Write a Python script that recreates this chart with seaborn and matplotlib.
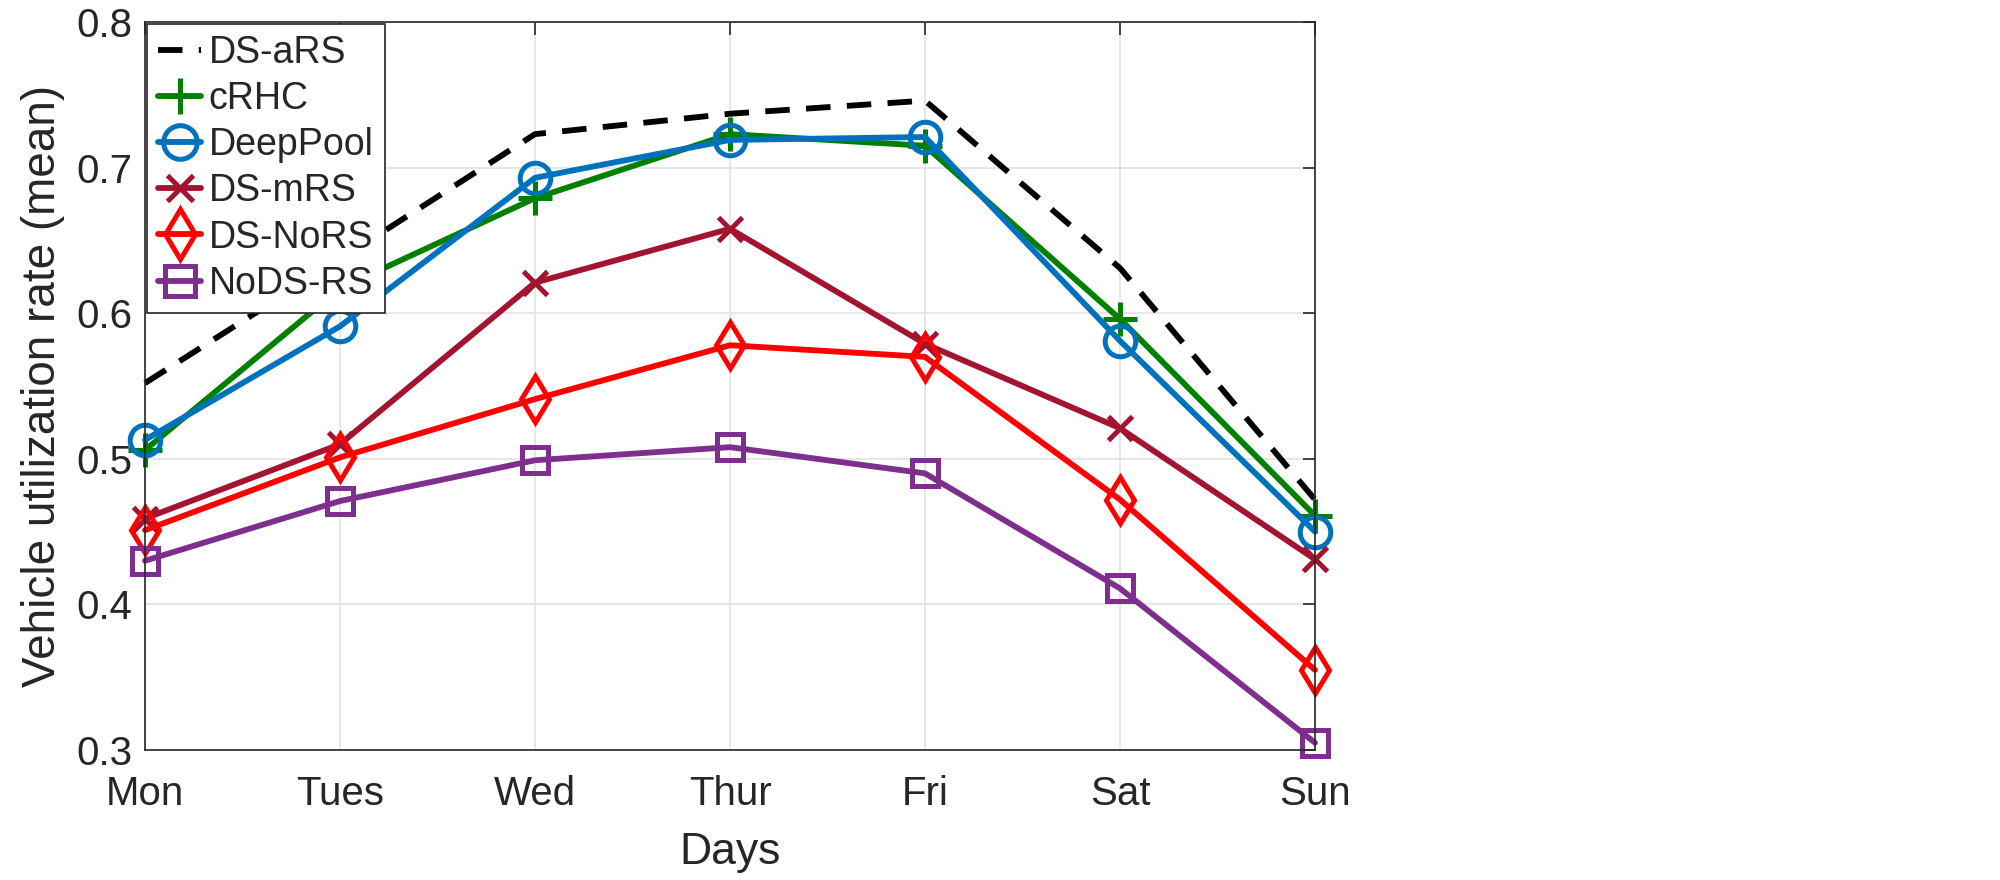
import matplotlib
matplotlib.use("Agg")
import matplotlib.pyplot as plt
import matplotlib.ticker as mticker
import seaborn as sns
import numpy as np

# data
days = ['Mon', 'Tues', 'Wed', 'Thur', 'Fri', 'Sat', 'Sun']
ds_ars = [0.552, 0.637, 0.723, 0.737, 0.746, 0.631, 0.472]
crhc = [0.506, 0.617, 0.679, 0.723, 0.715, 0.596, 0.461]
deeppool = [0.513, 0.591, 0.693, 0.719, 0.721, 0.581, 0.450]
ds_mrs = [0.459, 0.510, 0.621, 0.658, 0.579, 0.521, 0.431]
ds_nors = [0.451, 0.501, 0.541, 0.578, 0.570, 0.472, 0.355]
nods_rs = [0.430, 0.471, 0.499, 0.508, 0.490, 0.411, 0.305]

sns.set_style('white')
plt.rcParams['font.family'] = ['Liberation Sans', 'DejaVu Sans']

fig = plt.figure(figsize=(20, 8.8), dpi=100)
ax = fig.add_axes([0.0725, 0.1477, 0.585, 0.8273])

x = np.arange(len(days))

# (label, values, colour, marker, markersize, linestyle)
series = [
    ('DS-aRS', ds_ars, 'black', None, 0, (0, (4.2, 2.8))),
    ('cRHC', crhc, '#008000', '+', 24, '-'),
    ('DeepPool', deeppool, '#0072BD', 'o', 22, '-'),
    ('DS-mRS', ds_mrs, '#A2142F', 'x', 17, '-'),
    ('DS-NoRS', ds_nors, '#FF0000', 'd', 23, '-'),
    ('NoDS-RS', nods_rs, '#7E2F8E', 's', 19, '-'),
]

for name, vals, col, mk, ms, ls in series:
    sns.lineplot(x=x, y=vals, ax=ax, color=col, linewidth=4.2, linestyle=ls,
                 marker=mk, markersize=ms, markerfacecolor='none',
                 markeredgecolor=col, markeredgewidth=3.6, label=name,
                 clip_on=False)

ax.set_xlim(0, 6)
ax.set_ylim(0.3, 0.8)
ax.set_xticks(x)
ax.set_xticklabels(days)
ax.set_yticks([0.3, 0.4, 0.5, 0.6, 0.7, 0.8])
ax.yaxis.set_major_formatter(mticker.FormatStrFormatter('%.1f'))

ax.grid(True, color='#e3e3e3', linewidth=1.2)
ax.set_axisbelow(True)
for s in ax.spines.values():
    s.set_visible(True)
    s.set_color('#262626')
    s.set_linewidth(1.2)
ax.tick_params(direction='in', length=9, width=1.2, color='#262626',
               top=True, right=True, labelsize=29, labelcolor='#262626')
ax.tick_params(axis='x', pad=18)
ax.tick_params(axis='y', pad=9)

ax.set_xlabel('Days', fontsize=32, color='#262626', labelpad=14)
ax.set_ylabel('Vehicle utilization rate (mean)', fontsize=33, color='#262626', labelpad=8)

leg = ax.legend(loc='upper left', bbox_to_anchor=(0.0, 1.0), borderaxespad=0.05,
                fontsize=27, handlelength=1.15, handletextpad=0.2, labelspacing=0.27,
                borderpad=0.3, fancybox=False, framealpha=1, edgecolor='#262626',
                markerscale=1.1)
leg.get_frame().set_linewidth(1.2)

fig.savefig('out.png', dpi=100, facecolor='white')
